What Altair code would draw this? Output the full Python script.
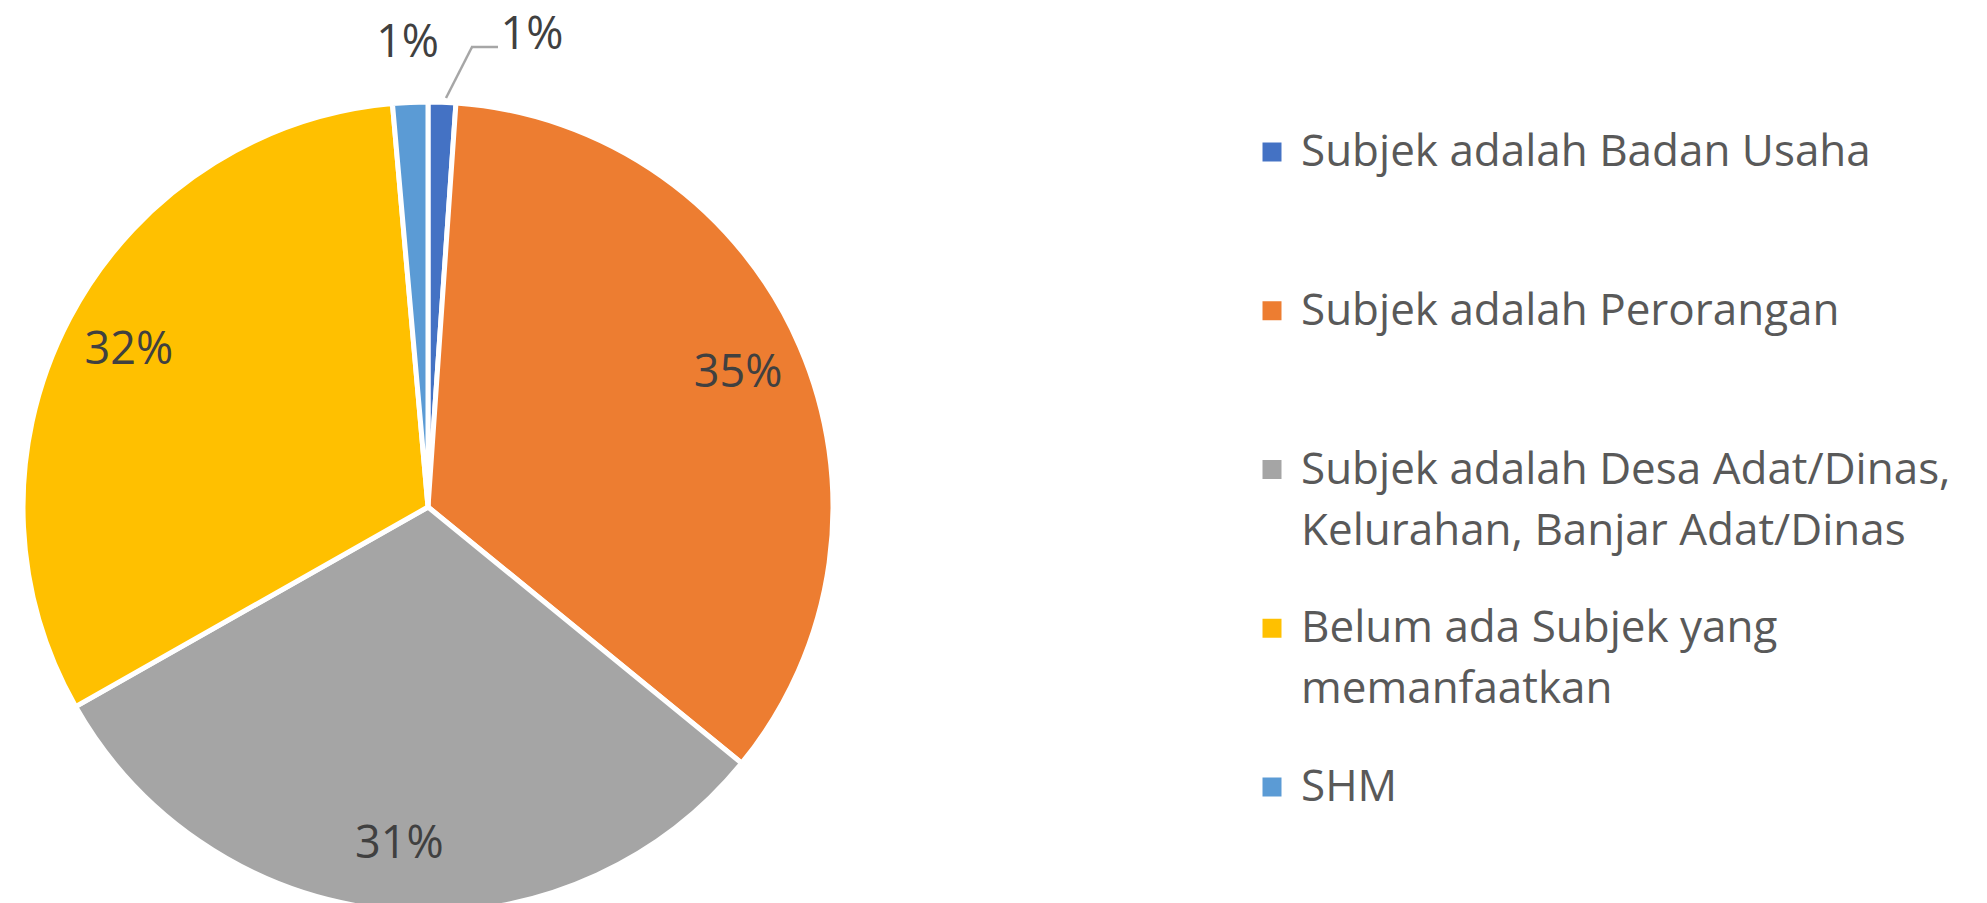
import altair as alt
import pandas as pd

categories = [
    "Subjek adalah Badan Usaha",
    "Subjek adalah Perorangan",
    "Subjek adalah Desa Adat/Dinas, Kelurahan, Banjar Adat/Dinas",
    "Belum ada Subjek yang memanfaatkan",
    "SHM",
]
legend_labels = [
    "Subjek adalah Badan Usaha",
    "Subjek adalah Perorangan",
    "Subjek adalah Desa Adat/Dinas,\nKelurahan, Banjar Adat/Dinas",
    "Belum ada Subjek yang\nmemanfaatkan",
    "SHM",
]
values = [1.1, 34.8, 30.9, 31.8, 1.4]
colors = ["#4472C4", "#ED7D31", "#A5A5A5", "#FFC000", "#5B9BD5"]

df = pd.DataFrame({
    "category": categories,
    "legend_label": legend_labels,
    "value": values,
    "idx": list(range(len(categories))),
})

CX, CY, R = 428, 507, 405
FONT = "Open Sans"

base = alt.Chart(df).transform_calculate(pct="datum.value / 100")

color = alt.Color("category:N", scale=alt.Scale(domain=categories, range=colors), legend=None)

theta = alt.Theta("value:Q", stack=True)
order = alt.Order("idx:Q")

pie = base.mark_arc(radius=R, stroke="white", strokeWidth=5).encode(
    theta=theta, order=order, color=color, x=alt.value(CX), y=alt.value(CY)
)

def label_layer(test, radius, dx=0, dy=0):
    return base.mark_text(
        radius=radius, dx=dx, dy=dy, font=FONT, fontSize=45, color="#404040",
        align="center", baseline="middle"
    ).encode(
        theta=theta, order=order, detail="category:N",
        x=alt.value(CX), y=alt.value(CY),
        text=alt.condition(test, alt.Text("pct:Q", format=".0%"), alt.value("")),
    )

big_labels = label_layer("datum.value >= 5", 338)
shm_label = label_layer("datum.idx == 4", 464)
badan_label = label_layer("datum.idx == 0", 464, dx=88, dy=-8)

leader_src = base.transform_filter("datum.idx == 0")
leader1 = leader_src.mark_rule(color="#A6A6A6", strokeWidth=2.5).encode(
    x=alt.value(446), y=alt.value(98), x2=alt.value(472), y2=alt.value(47)
)
leader2 = leader_src.mark_rule(color="#A6A6A6", strokeWidth=2.5).encode(
    x=alt.value(471), y=alt.value(47), x2=alt.value(498), y2=alt.value(47)
)

ly = alt.Y("category:N", sort=categories, axis=None,
           scale=alt.Scale(type="point", range=[152, 787], padding=0))

legend_sq = base.mark_square(size=361, filled=True, opacity=1).encode(
    x=alt.value(1272), y=ly, color=color
)
legend_txt = base.mark_text(
    align="left", baseline="alphabetic", dy=14, font=FONT, fontSize=44,
    lineHeight=61, lineBreak="\n", color="#595959"
).encode(x=alt.value(1301), y=ly, text="legend_label:N")

chart = alt.layer(
    pie, leader1, leader2, big_labels, shm_label, badan_label, legend_sq, legend_txt
).properties(
    width=1987, height=903, padding=0,
    autosize=alt.AutoSizeParams(type="none"),
).configure_view(strokeWidth=0)

chart.save("out.html", embed_options={"renderer": "svg", "actions": False})
